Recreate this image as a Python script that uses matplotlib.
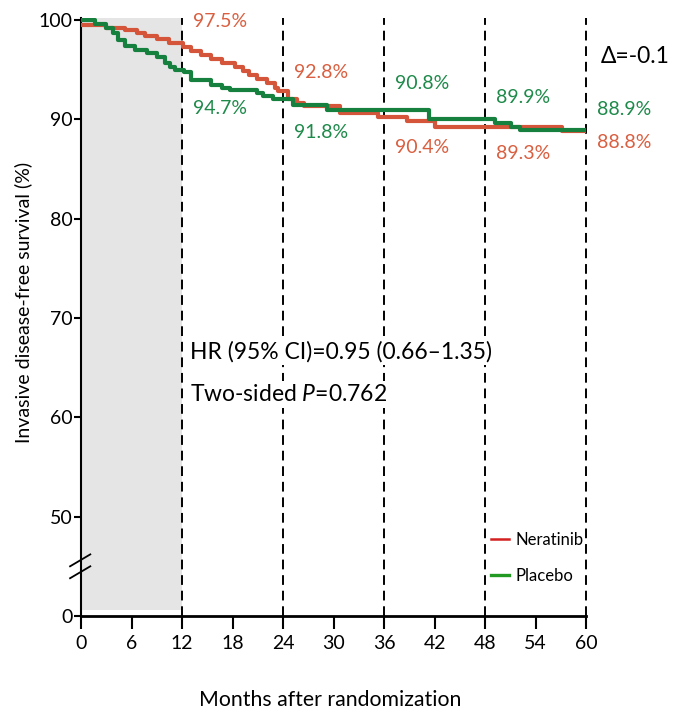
import numpy as np
import matplotlib
matplotlib.use("Agg")
import matplotlib.pyplot as plt
from matplotlib.lines import Line2D

plt.rcParams["font.family"] = ["Lato", "DejaVu Sans"]
plt.rcParams["mathtext.fontset"] = "custom"
plt.rcParams["mathtext.rm"] = "Lato"
plt.rcParams["mathtext.it"] = "Lato:italic"

# KM step curves (months, % event-free)
ner_months = [0, 3.0, 5.2, 6.6, 7.6, 9.0, 10.4, 12.1, 13.1, 14.3, 15.5, 16.7, 18.3,
              19.3, 19.9, 20.9, 22.1, 23.0, 23.4, 24.6, 25.6, 26.5, 30.8, 35.3,
              38.7, 42.0, 57.1, 60]
ner_surv = [99.5, 99.2, 99.0, 98.7, 98.4, 98.05, 97.7, 97.3, 96.9, 96.5, 96.1, 95.7, 95.3,
            94.9, 94.5, 94.1, 93.7, 93.2, 92.8, 92.0, 91.6, 91.3, 90.6, 90.25,
            89.8, 89.25, 88.85, 88.85]

pla_months = [0, 1.7, 3.0, 3.8, 4.4, 5.2, 6.4, 7.8, 9.0, 10.0, 10.6, 11.2, 12.2,
              13.1, 15.5, 16.7, 17.7, 20.9, 21.6, 22.8, 25.2, 29.2, 41.4, 49.2,
              51.1, 52.1, 60]
pla_surv = [100, 99.6, 99.2, 98.65, 98.0, 97.4, 97.0, 96.65, 96.3, 95.65, 95.3, 95.0, 94.8,
            94.0, 93.5, 93.2, 92.95, 92.6, 92.35, 92.0, 91.45, 90.95, 90.0, 89.6,
            89.25, 88.9, 88.9]

landmarks = [12, 24, 36, 48, 60]
ner_labels = ["97.5%", "92.8%", "90.4%", "89.3%", "88.8%"]
pla_labels = ["94.7%", "91.8%", "90.8%", "89.9%", "88.9%"]
ner_label_y = [99.8, 94.7, 87.2, 86.6, 87.7]
pla_label_y = [91.1, 88.7, 93.6, 92.2, 91.0]

xticks = list(range(0, 61, 6))
yticks = [40, 50, 60, 70, 80, 90, 100]
ytick_labels = ["0", "50", "60", "70", "80", "90", "100"]

RED = "#d4553a"
GREEN = "#16803f"
RED_TXT = "#d95f40"
GREEN_TXT = "#1e8a4a"

fig = plt.figure(figsize=(6.73, 7.14), dpi=100)
ax = fig.add_axes([0.1204, 0.1373, 0.7504, 0.8375])
ax.set_xlim(0, 60)
ax.set_ylim(40, 100.2)

# shaded first-year region
ax.fill_between([0, 12], 40.6, 100.2, color="#e5e5e5", lw=0, zorder=0)

# dashed landmark lines
ax.vlines(landmarks, 40, 100.2, colors="black", linestyles=(0, (5, 3)), lw=1.4,
          zorder=1, clip_on=False)

ax.step(ner_months, ner_surv, where="post", color=RED, lw=3, zorder=3)
ax.step(pla_months, pla_surv, where="post", color=GREEN, lw=3, zorder=4)

for xm, lab, yy in zip(landmarks, ner_labels, ner_label_y):
    ax.text(xm + 1.3, yy, lab, color=RED_TXT, fontsize=14, va="center", ha="left",
            clip_on=False)
for xm, lab, yy in zip(landmarks, pla_labels, pla_label_y):
    ax.text(xm + 1.3, yy, lab, color=GREEN_TXT, fontsize=14, va="center", ha="left",
            clip_on=False)

ax.text(61.8, 96.3, "Δ=-0.1", fontsize=16.5, va="center", ha="left", clip_on=False)

box = dict(facecolor="white", edgecolor="none", pad=2)
ax.text(12.9, 66.6, "HR (95% CI)=0.95 (0.66–1.35)", fontsize=16.5, va="center",
        ha="left", bbox=box, zorder=5)
ax.text(12.9, 62.3, "Two-sided $P$=0.762", fontsize=16.5, va="center",
        ha="left", bbox=box, zorder=5)

handles = [Line2D([], [], color="#d42020", lw=1.8),
           Line2D([], [], color="#229922", lw=2.4)]
ax.legend(handles, ["Neratinib", "Placebo"], loc="lower left",
          bbox_to_anchor=(0.782, 0.028), frameon=False, fontsize=12,
          handlelength=1.1, handletextpad=0.35, labelspacing=1.2)

# axes styling
for side in ["top", "right"]:
    ax.spines[side].set_visible(False)
ax.spines["left"].set_linewidth(1.5)
ax.spines["bottom"].set_linewidth(2)
ax.set_xticks(xticks)
ax.set_yticks(yticks)
ax.set_yticklabels(ytick_labels)
ax.tick_params(axis="x", length=9, width=1.5, labelsize=14, pad=5)
ax.tick_params(axis="y", length=5, width=1.5, labelsize=14, pad=1)

# axis break marks
for yb in [45.6, 44.4]:
    ax.plot([-1.3, 1.1], [yb - 0.6, yb + 0.6], color="black", lw=1.3,
            clip_on=False, zorder=6)

fig.text(330 / 673, 1 - 700 / 714, "Months after randomization", fontsize=15.3,
         ha="center", va="center")
fig.text(23 / 673, 1 - 302 / 714, "Invasive disease-free survival (%)", fontsize=14,
         ha="center", va="center", rotation=90)

fig.savefig("out.png", dpi=100)
